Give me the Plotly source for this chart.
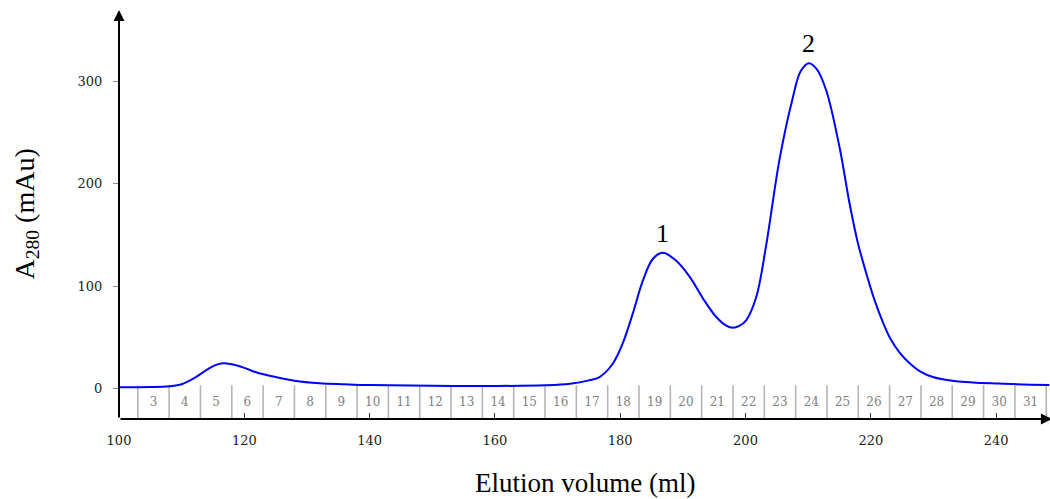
import plotly.graph_objects as go

# Chromatogram trace
volume_ml = [100, 105, 108, 110, 112, 114, 115.3, 116.6, 118, 120, 122, 125, 128, 132, 136, 140,
             150, 160, 168, 172, 175, 176.7, 178.8, 180.4, 182, 183.6, 185.2, 186.8, 188.9,
             191.1, 193.2, 195.3, 197, 198, 199, 200.1, 201.7, 203.3, 205.4, 207.5, 208.8,
             210.1, 211.4, 212.9, 215, 216.6, 217.9, 219.2, 220.5, 221.9, 223, 224.6, 226.2,
             228, 229.9, 233.6, 240.5, 248.5]
a280_mau = [1, 1.2, 2, 4, 10, 18, 22.5, 24.5, 23.5, 20, 15.5, 11, 7.5, 5, 4, 3.2,
            2.5, 2.3, 3, 4.5, 7.8, 11, 24, 44, 73, 105, 126.5, 132.5, 125,
            109, 88, 70, 61, 59.3, 61, 66.5, 89, 140, 223, 283, 310,
            318, 312, 291, 236, 181, 143, 114, 88, 65, 50, 35, 24.5,
            16, 11, 7, 4.6, 3.3]

# Fraction collection boundaries and labels
fraction_edges = [103, 108, 113, 118, 123, 128, 133, 138, 143, 148, 153, 158, 163, 168,
                  173, 178, 183, 188, 193, 198, 203, 208, 213, 218, 223, 228, 233, 238,
                  243, 248]
fraction_labels = ["3", "4", "5", "6", "7", "8", "9", "10", "11", "12", "13", "14", "15",
                   "16", "17", "18", "19", "20", "21", "22", "23", "24", "25", "26", "27",
                   "28", "29", "30", "31"]

# Peak annotations
peak_names = ["1", "2"]
peak_x = [186.8, 210.1]
peak_y = [132.5, 318]

x_ticks = [100, 120, 140, 160, 180, 200, 220, 240]
y_ticks = [0, 100, 200, 300]

XMIN, XMAX = 100, 248.6
YMIN, YMAX = -30, 370
FRAC_TOP = 3
LABEL_Y = -14.5

SERIF = "Liberation Serif, DejaVu Serif, serif"
TICKFONT = "DejaVu Serif, serif"

fig = go.Figure()

# fraction separator lines
fx, fy = [], []
for e in fraction_edges:
    fx += [e, e, None]
    fy += [FRAC_TOP, YMIN, None]
fig.add_trace(go.Scatter(x=fx, y=fy, mode="lines",
                         line=dict(color="#b5b5b5", width=1.6),
                         hoverinfo="skip", showlegend=False))

# fraction labels
mids = [(a + b) / 2 for a, b in zip(fraction_edges[:-1], fraction_edges[1:])]
fig.add_trace(go.Scatter(x=mids, y=[LABEL_Y] * len(mids), mode="text",
                         text=fraction_labels,
                         textfont=dict(family=TICKFONT, size=12, color="#808080"),
                         hoverinfo="skip", showlegend=False))

# chromatogram
fig.add_trace(go.Scatter(x=volume_ml, y=a280_mau, mode="lines",
                         line=dict(color="#0000ff", width=2, shape="spline", smoothing=1.0),
                         showlegend=False))

# peak labels
for name, px, py in zip(peak_names, peak_x, peak_y):
    fig.add_annotation(x=px, y=py, xref="x", yref="y", text=name, showarrow=False,
                       yanchor="bottom", xanchor="center", yshift=4, borderpad=0,
                       font=dict(family=SERIF, size=26, color="black"))

# axes with arrows
fig.add_annotation(x=XMIN, y=YMAX, ax=XMIN, ay=YMIN, xref="x", yref="y",
                   axref="x", ayref="y", text="", showarrow=True,
                   arrowhead=2, arrowsize=1.1, arrowwidth=2, arrowcolor="black")
fig.add_annotation(x=XMAX + 0.3, y=YMIN, ax=XMIN, ay=YMIN, xref="x", yref="y",
                   axref="x", ayref="y", text="", showarrow=True,
                   arrowhead=2, arrowsize=1.1, arrowwidth=2, arrowcolor="black")

# axis titles
fig.add_annotation(text="Elution volume (ml)", xref="paper", yref="paper",
                   x=0.5, y=0, yshift=-64, showarrow=False, borderpad=0,
                   font=dict(family=SERIF, size=27, color="black"),
                   xanchor="center", yanchor="middle")
fig.add_annotation(text="A<sub>280</sub> (mAu)", xref="paper", yref="paper",
                   x=0, y=0.5, xshift=-93, showarrow=False, textangle=-90, borderpad=0,
                   font=dict(family=SERIF, size=28, color="black"),
                   xanchor="center", yanchor="middle")

fig.update_xaxes(range=[XMIN, XMAX], tickvals=x_ticks, ticks="inside", ticklen=6,
                 tickcolor="#333", tickwidth=1, showgrid=False, zeroline=False,
                 showline=False, ticklabelstandoff=12,
                 tickfont=dict(family=TICKFONT, size=13, color="#222"))
fig.update_yaxes(range=[YMIN, YMAX], tickvals=y_ticks, ticks="outside", ticklen=5,
                 tickcolor="#888", tickwidth=1, showgrid=False, zeroline=False,
                 showline=False, ticklabelstandoff=8,
                 tickfont=dict(family=TICKFONT, size=13, color="#222"))

fig.update_layout(width=1050, height=499, paper_bgcolor="white", plot_bgcolor="white",
                  margin=dict(l=119, r=0, t=10, b=80), showlegend=False)

fig.write_html("out.html")
